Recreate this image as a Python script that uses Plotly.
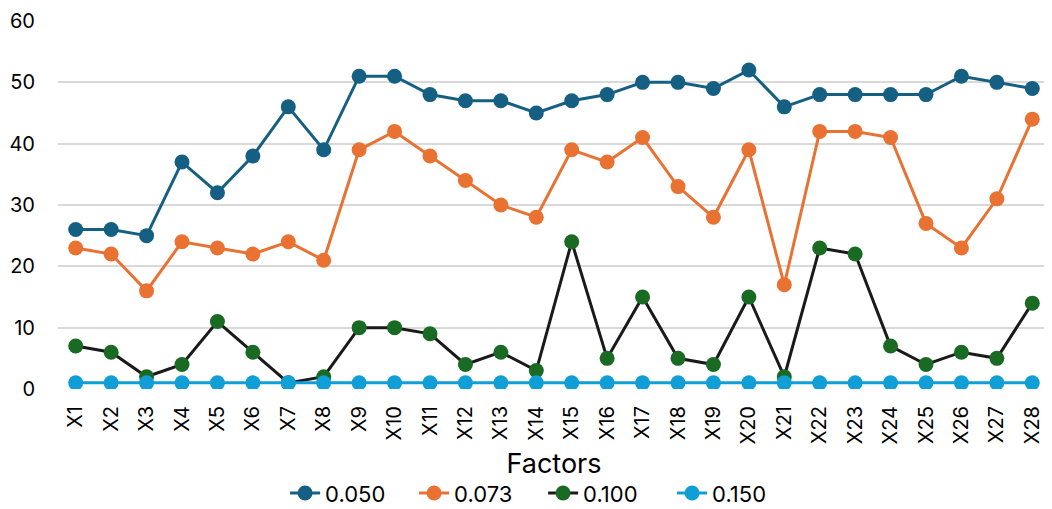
import plotly.graph_objects as go

categories = [f"X{i}" for i in range(1, 29)]
s050 = [26, 26, 25, 37, 32, 38, 46, 39, 51, 51, 48, 47, 47, 45, 47, 48, 50, 50, 49, 52, 46, 48, 48, 48, 48, 51, 50, 49]
s073 = [23, 22, 16, 24, 23, 22, 24, 21, 39, 42, 38, 34, 30, 28, 39, 37, 41, 33, 28, 39, 17, 42, 42, 41, 27, 23, 31, 44]
s100 = [7, 6, 2, 4, 11, 6, 1, 2, 10, 10, 9, 4, 6, 3, 24, 5, 15, 5, 4, 15, 2, 23, 22, 7, 4, 6, 5, 14]
s150 = [1] * 28
names = ["0.050", "0.073", "0.100", "0.150"]
line_colors = ["#156082", "#E97132", "#1a1a1a", "#0F9ED5"]
marker_colors = ["#156082", "#E97132", "#196B24", "#0F9ED5"]

fig = go.Figure()
for name, ys, lc, mc in zip(names, [s050, s073, s100, s150], line_colors, marker_colors):
    fig.add_trace(go.Scatter(
        x=categories, y=ys, name=name, mode="lines+markers",
        line=dict(color=lc, width=3),
        marker=dict(color=mc, size=15),
    ))

font = "Inter, Liberation Sans, sans-serif"
# page body has an 8px default margin; compensate so the plot lands where the reference has it
fig.update_layout(
    width=1044, height=501,
    margin=dict(l=50, r=2, t=13, b=120, autoexpand=False),
    paper_bgcolor="white", plot_bgcolor="white",
    font=dict(family=font, color="#000000"),
    showlegend=True,
    legend=dict(orientation="h", x=0.489, xanchor="center", y=-0.283, yanchor="middle",
                font=dict(size=22), entrywidth=84, entrywidthmode="pixels",
                traceorder="normal"),
    xaxis=dict(type="category", range=[-0.5, 27.5], tickangle=-90, tickfont=dict(size=20),
               showgrid=False, showline=False, ticks="", automargin=False,
               ticklabelstandoff=12,
               title=dict(text="Factors", font=dict(size=27), standoff=10)),
    yaxis=dict(range=[0, 60], dtick=10, tickfont=dict(size=20),
               showgrid=True, gridcolor="#d9d9d9", gridwidth=1.5, automargin=False,
               zeroline=False, showline=False, ticks="", ticklabelstandoff=22),
)
fig.write_html("out.html")
